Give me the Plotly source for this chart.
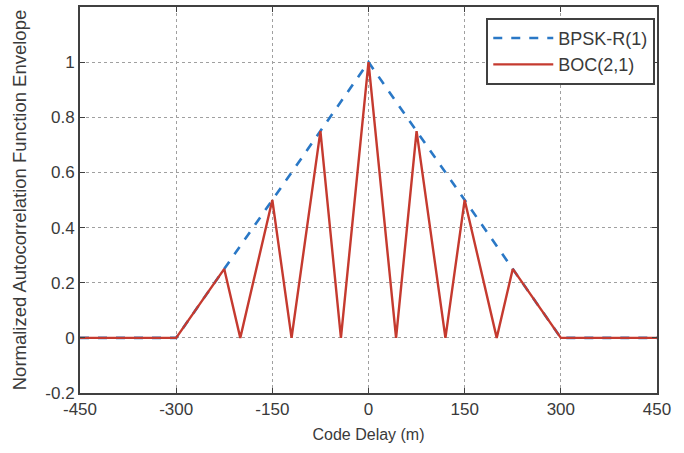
import plotly.graph_objects as go

# Data
bpsk_x = [-450, -300, 0, 300, 450]
bpsk_y = [0, 0, 1, 0, 0]

boc_x = [-450, -300, -225, -200, -150, -120, -75, -43, 0, 43, 75, 120, 150, 200, 225, 300, 450]
boc_y = [0, 0, 0.25, 0, 0.5, 0, 0.75, 0, 1, 0, 0.75, 0, 0.5, 0, 0.25, 0, 0]

x_ticks = [-450, -300, -150, 0, 150, 300, 450]
x_tick_text = ["-450", "-300", "-150", "0", "150", "300", "450"]
y_ticks = [-0.2, 0, 0.2, 0.4, 0.6, 0.8, 1]
y_tick_text = ["-0.2", "0", "0.2", "0.4", "0.6", "0.8", "1"]

FONT = "Liberation Sans, Arial, sans-serif"
TXT = "#3a3a3a"

fig = go.Figure()
fig.add_trace(go.Scatter(x=bpsk_x, y=bpsk_y, mode="lines", name="BPSK-R(1)",
                         line=dict(color="#2a78c6", width=2.6, dash="dash")))
fig.add_trace(go.Scatter(x=boc_x, y=boc_y, mode="lines", name="BOC(2,1)",
                         line=dict(color="#c53a2f", width=2.4)))

axis_common = dict(showline=True, linecolor="#404040", linewidth=2, mirror="ticks",
                   ticks="inside", ticklen=5, tickcolor="#404040",
                   showgrid=True, gridcolor="#a0a0a0", griddash="dot", gridwidth=1.2,
                   zeroline=False, tickfont=dict(family=FONT, size=17, color=TXT))

fig.update_xaxes(range=[-450, 450], tickvals=x_ticks, ticktext=x_tick_text,
                 title_text="Code Delay (m)", title_standoff=10,
                 title_font=dict(family=FONT, size=16, color=TXT), **axis_common)
fig.update_yaxes(range=[-0.2, 1.2], tickvals=y_ticks, ticktext=y_tick_text,
                 title_text="Normalized Autocorrelation Function Envelope",
                 title_standoff=14,
                 title_font=dict(family=FONT, size=18.5, color=TXT), **axis_common)

fig.update_layout(
    width=684, height=453,
    margin=dict(l=80, r=27, t=5, b=60),
    paper_bgcolor="white", plot_bgcolor="white",
    showlegend=True,
    legend=dict(x=0.997, y=0.972, xanchor="right", yanchor="top",
                bgcolor="white", bordercolor="#404040", borderwidth=2,
                font=dict(family=FONT, size=18, color=TXT),
                itemwidth=60, tracegroupgap=2),
)

fig.write_html("out.html")
